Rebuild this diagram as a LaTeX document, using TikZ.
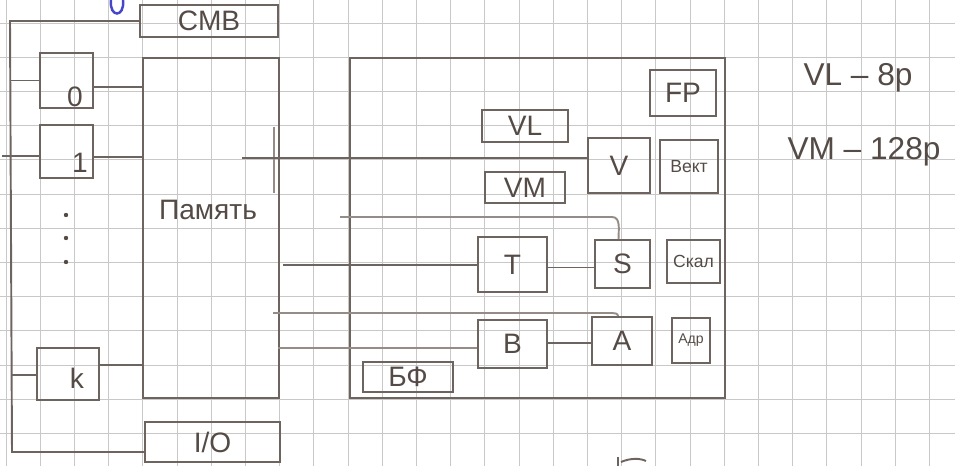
\documentclass[tikz,border=0pt]{standalone}
\usepackage{fontspec}
\setmainfont{Liberation Sans}
\definecolor{penc}{RGB}{110,100,95}
\definecolor{pencl}{RGB}{150,140,135}
\definecolor{inkc}{RGB}{85,75,70}
\definecolor{gridc}{RGB}{200,200,200}
\definecolor{bluec}{RGB}{70,70,200}
\tikzset{
  pen/.style={draw=penc, line width=1.1pt},
  box/.style={pen, inner sep=0pt, text=inkc, font=\fontsize{16}{18}\selectfont},
  lbl/.style={inner sep=0pt, text=inkc, font=\fontsize{16}{18}\selectfont},
  small/.style={font=\fontsize{10}{12}\selectfont},
  wire/.style={draw=penc, line width=1.1pt},
  fwire/.style={draw=pencl, line width=1.1pt},
  paper/.style={draw=gridc, line width=0.5pt}
}
\begin{document}
\begin{tikzpicture}[x=0.02cm,y=-0.02cm]
\useasboundingbox (0,0) rectangle (955,466);
% grid paper
\foreach \i in {0,...,27} \draw[paper] ({6+34.2*\i},0) -- ({6+34.2*\i},466);
\foreach \j in {0,...,12} \draw[paper] (0,{23+34.2*\j}) -- (955,{23+34.2*\j});

% left part
\node[box, minimum width=2.76cm, minimum height=0.64cm] (cmb) at (209,21) {CMB};
\node[box, minimum width=2.72cm, minimum height=6.8cm] (mem) at (211,228) {};
\node[lbl] (memt) at (208,210) {Память};
\node[box, minimum width=2.7cm, minimum height=0.8cm] (io) at (212.5,442) {I/O};
\node[box, minimum width=1.06cm, minimum height=1.1cm] (r0) at (66.5,80.5) {};
\node[box, minimum width=1.06cm, minimum height=1.06cm] (r1) at (66.5,151.5) {};
\node[box, minimum width=1.24cm, minimum height=1.04cm] (rk) at (68,374) {};
\node[lbl] (t0) at (75,97) {0};
\node[lbl] (t1) at (80,163) {1};
\node[lbl] (tk) at (77,378) {k};
\foreach \y [count=\n] in {215,238,262} \fill[inkc] (66,\y) circle (2.2) coordinate (dot\n);

% bus
\coordinate (bt) at (10,21);
\coordinate (bb) at (12,452);
\coordinate (s1) at (2,156);
\draw[wire] (cmb.west) -- (bt) -- (bb) -- (bb -| io.west);
\draw[wire] (r0.west -| bt) -- (r0.west);
\draw[wire] (s1) -- (s1 -| r1.west);
\draw[wire] ([yshift=-0.02cm]rk.west -| bb) -- ([yshift=-0.02cm]rk.west);
\draw[wire] ([yshift=-0.13cm]r0.east) -- ([yshift=-0.13cm]r0.east -| mem.west);
\draw[wire] ([yshift=-0.11cm]r1.east) -- ([yshift=-0.11cm]r1.east -| mem.west);
\draw[wire] ([yshift=0.18cm]rk.east) -- ([yshift=0.18cm]rk.east -| mem.west);
\coordinate (mx) at (274,127);
\draw[fwire] (mx) -- (274,193);

% right part
\node[box, minimum width=7.5cm, minimum height=6.8cm] (cpu) at (537.5,228) {};
\node[box, minimum width=1.32cm, minimum height=0.92cm] (fp) at (683,93) {FP};
\node[box, minimum width=1.72cm, minimum height=0.64cm] (vl) at (525,126) {VL};
\node[box, minimum width=1.6cm, minimum height=0.62cm] (vm) at (525,187.5) {VM};
\node[box, minimum width=1.24cm, minimum height=1.1cm] (v) at (619,165.5) {V};
\node[box, small, minimum width=1.16cm, minimum height=1.06cm] (vect) at (689,166.5) {Вект};
\node[box, minimum width=1.38cm, minimum height=1.1cm] (t) at (512.5,264.5) {T};
\node[box, minimum width=1.1cm, minimum height=0.96cm] (s) at (622.5,264) {S};
\node[box, small, minimum width=1.06cm, minimum height=0.86cm] (skal) at (693.5,261.5) {Скал};
\node[box, minimum width=1.38cm, minimum height=0.96cm] (b) at (512.5,344) {B};
\node[box, minimum width=1.2cm, minimum height=0.96cm] (a) at (622,341) {A};
\node[box, font=\fontsize{8}{10}\selectfont, minimum width=0.76cm, minimum height=0.9cm] (adr) at (691,340.5) {Адр};
\node[box, minimum width=1.8cm, minimum height=0.6cm] (bf) at (408,377) {БФ};

% memory to processor
\coordinate (m1) at (242,158);
\coordinate (m2) at (340,217);
\coordinate (m3) at (283,265);
\coordinate (m4) at (273,313);
\coordinate (m5) at (278,348);
\draw[wire] (m1) -- (m1 -| v.west);
\draw[fwire] (m2) -- (612,217) to[out=0,in=90] ([xshift=-0.08cm]s.north);
\draw[wire] (m3) -- (m3 -| t.west);
\draw[fwire] (m4) -- (612,313) to[out=0,in=90] ([xshift=-0.08cm]a.north);
\draw[fwire] (m5) -- (m5 -| b.west);
\draw[wire] ([yshift=-0.06cm]t.east) -- ([yshift=-0.06cm]t.east -| s.west);
\draw[wire] ([yshift=0.02cm]b.east) -- ([yshift=0.02cm]b.east -| a.west);

% notes
\node[lbl, font=\fontsize{18}{20}\selectfont] (n1) at (858,78) {VL – 8p};
\node[lbl, font=\fontsize{18}{20}\selectfont] (n2) at (864,152) {VM – 128p};

% stray marks
\coordinate (bl1) at (111,0);
\draw[draw=bluec, line width=1.4pt] (bl1) .. controls (109,18) and (125,18) .. (123,0);
\coordinate (bm) at (618,457);
\draw[pen] (bm) -- (618,466);
\draw[pen] (621,462) .. controls (630,458) and (640,458) .. (646,461);
\end{tikzpicture}
\end{document}
